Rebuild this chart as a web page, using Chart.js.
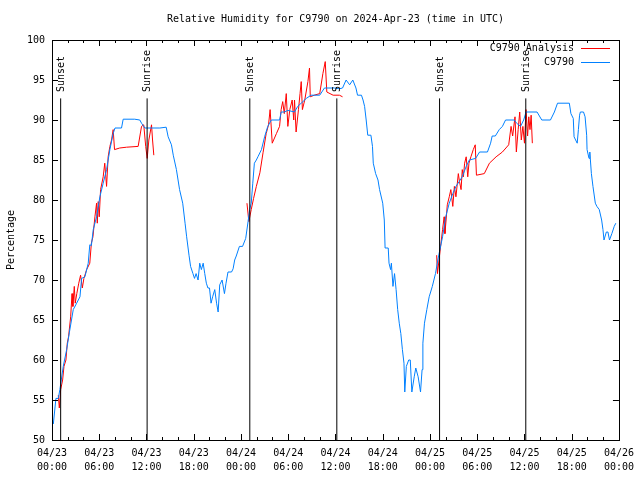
<!DOCTYPE html>
<html>
<head>
<meta charset="utf-8">
<script src="https://cdn.jsdelivr.net/npm/chart.js@4.4.1/dist/chart.umd.min.js"></script>
<style>
  body { margin: 0; background: #fff; }
  canvas { display: block; }
</style>
</head>
<body>
<canvas id="rhChart" width="640" height="480"></canvas>
<script>
// hours since 04/23 00:00 UTC
const obsHours = [0.17, 0.5, 0.8, 1.0, 1.43, 1.86, 2.2, 2.7, 3.13, 3.55, 3.76, 4.18, 4.6, 4.8, 5.0, 5.24, 5.66, 6.08, 6.5, 6.93,
  7.35, 7.77, 8.0, 8.83, 9.04, 10.5, 11.15, 11.37, 11.8, 13.7, 14.5, 14.75, 15.17, 15.4, 15.8, 16.2, 16.6, 16.9, 17.1, 17.4,
  17.6, 17.9, 18.1, 18.3, 18.55, 18.76, 18.97, 19.2, 19.4, 19.6, 19.8, 20.0, 20.2, 20.4, 20.67, 20.9, 21.1, 21.3, 21.6, 21.9,
  22.1, 22.35, 22.8, 23.0, 23.2, 23.4, 23.8, 24.2, 24.6, 24.9, 25.1, 25.3, 25.5, 25.7, 25.95, 26.15, 26.6, 27.0, 27.4, 27.85,
  28.9, 29.1, 29.5, 29.95, 30.8, 31.2, 31.65, 32.3, 32.9, 34.0, 34.6, 35.9, 36.5, 36.9, 37.35, 37.8, 38.2, 38.6, 38.8, 39.3,
  39.5, 39.7, 39.9, 40.1, 40.5, 40.7, 40.8, 41.1, 41.4, 41.6, 42.0, 42.2, 42.3, 42.7, 42.8, 43.0, 43.1, 43.3, 43.5, 43.7,
  43.9, 44.1, 44.3, 44.5, 44.7, 44.8, 45.0, 45.3, 45.5, 45.7, 46.0, 46.2, 46.5, 46.8, 47.0, 47.1, 47.3, 47.6, 47.9, 48.3,
  48.7, 49.0, 49.2, 49.6, 50.0, 50.45, 50.9, 51.3, 51.7, 52.1, 52.6, 53.0, 53.8, 54.3, 55.3, 55.7, 55.9, 56.3, 56.8, 57.2,
  57.6, 58.7, 59.0, 59.5, 59.9, 60.2, 61.6, 62.2, 63.3, 63.8, 64.2, 65.7, 65.9, 66.2, 66.3, 66.5, 66.7, 66.85, 67.0, 67.1,
  67.5, 67.7, 67.9, 67.95, 68.2, 68.3, 68.5, 68.7, 69.0, 69.2, 69.5, 69.8, 69.97, 70.1, 70.4, 70.6, 70.8, 71.1, 71.4, 71.6];
const obsValues = [52.0, 55.2, 55.2, 56.3, 59.2, 61.3, 63.4, 66.3, 67.1, 67.9, 70.2, 70.4, 72.1, 74.4, 74.3, 76.3, 77.9, 80.4, 82.1, 83.8,
  86.3, 88.3, 89.0, 89.0, 90.1, 90.1, 90.0, 89.6, 89.0, 89.0, 89.1, 87.9, 86.9, 85.6, 83.8, 81.3, 79.6, 77.1, 75.4, 73.1,
  71.7, 70.8, 70.2, 70.8, 70.0, 72.1, 71.3, 72.1, 70.8, 69.6, 69.0, 69.0, 67.1, 67.9, 68.8, 67.1, 66.0, 69.4, 70.0, 68.3,
  69.6, 71.0, 71.0, 71.4, 72.5, 73.0, 74.2, 74.2, 75.2, 77.3, 78.8, 79.6, 82.1, 84.6, 85.0, 85.4, 86.3, 87.9, 89.2, 90.0,
  90.0, 91.0, 91.0, 91.2, 91.0, 91.7, 92.1, 92.7, 93.1, 93.1, 94.0, 94.0, 93.9, 94.0, 95.0, 94.4, 95.0, 94.0, 93.1, 93.1,
  92.5, 91.7, 90.0, 88.1, 88.1, 86.7, 84.6, 83.3, 82.5, 81.3, 79.6, 77.5, 74.0, 74.0, 72.1, 71.3, 72.1, 69.2, 70.8, 68.8,
  66.3, 64.6, 63.3, 61.3, 59.6, 56.0, 59.2, 60.0, 60.0, 56.0, 57.9, 59.0, 57.9, 56.0, 58.8, 62.1, 64.6, 66.3, 67.9, 69.2,
  70.8, 72.5, 73.5, 75.4, 77.9, 79.6, 80.8, 81.7, 82.3, 82.9, 84.2, 85.0, 85.2, 86.0, 86.0, 87.1, 88.0, 88.0, 88.8, 89.2,
  90.0, 90.0, 89.6, 89.2, 90.0, 91.0, 91.0, 90.0, 90.0, 91.0, 92.1, 92.1, 90.8, 90.2, 87.9, 87.5, 87.1, 88.8, 90.6, 91.0,
  91.0, 90.4, 88.1, 86.3, 85.2, 86.0, 83.3, 81.7, 79.6, 79.2, 78.8, 77.5, 76.3, 75.0, 76.0, 76.0, 75.0, 75.8, 76.7, 77.1];

// analysis runs, null breaks the line between nights
const anaHours = [0.8, 0.93, 1.1, 1.35, 1.52, 1.77, 1.94, 2.1, 2.37, 2.54, 2.65, 2.83, 2.95, 3.15, 3.4, 3.63, 3.85, 4.05, 4.4, 4.8,
  5.0, 5.2, 5.45, 5.66, 5.75, 5.87, 6.0, 6.17, 6.5, 6.7, 6.93, 7.13, 7.35, 7.56, 7.77, 7.94, 8.6, 9.47, 10.94, 11.37,
  11.65, 11.9, 12.09, 12.3, 12.64, 12.77, 12.93, 18,
  24.76, 25.0, 25.3, 25.6, 25.95, 26.4, 26.8, 27.2, 27.5, 27.7, 27.97, 28.5, 28.9, 29.1, 29.3, 29.5, 29.75, 29.95, 30.2, 30.5,
  30.7, 30.8, 31.0, 31.3, 31.5, 31.65, 31.8, 32.1, 32.5, 32.7, 32.8, 33.3, 34.0, 34.4, 34.7, 34.9, 35.7, 36.5, 36.9, 42,
  48.85, 48.95, 49.15, 49.4, 49.6, 49.8, 49.9, 50.05, 50.2, 50.45, 50.65, 50.9, 51.1, 51.3, 51.6, 51.75, 51.95, 52.1, 52.25, 52.4,
  52.6, 52.8, 52.95, 53.2, 53.5, 53.75, 53.9, 54.9, 55.55, 56.4, 57.2, 58.0, 58.3, 58.5, 58.8, 58.97, 59.2, 59.4, 59.6, 59.8,
  60.0, 60.2, 60.4, 60.55, 60.7, 60.85, 61.0];
const anaValues = [55.6, 54.0, 56.3, 57.5, 59.2, 60.0, 62.1, 62.9, 65.4, 68.3, 66.7, 69.2, 67.1, 68.3, 69.6, 70.6, 69.0, 70.2, 71.3, 72.1,
  74.6, 75.4, 77.9, 79.6, 77.1, 79.8, 77.9, 81.3, 82.9, 84.6, 81.7, 85.4, 86.7, 87.5, 88.8, 86.3, 86.5, 86.6, 86.7, 89.2,
  89.4, 86.7, 85.2, 87.5, 89.4, 87.5, 85.6, null,
  79.6, 77.3, 78.8, 80.2, 81.7, 83.4, 85.9, 88.3, 89.4, 91.3, 87.1, 88.3, 89.2, 91.3, 92.3, 90.8, 93.3, 89.2, 91.3, 92.5,
  90.0, 92.5, 88.5, 91.3, 93.3, 94.8, 91.3, 92.5, 94.8, 96.5, 92.9, 93.1, 93.3, 95.8, 97.3, 93.5, 93.1, 93.1, 92.9, null,
  73.1, 70.8, 72.5, 74.6, 76.3, 77.9, 75.8, 77.5, 79.4, 80.4, 81.3, 79.2, 81.7, 80.4, 83.3, 82.3, 81.3, 83.8, 82.9, 84.6,
  85.4, 82.9, 84.6, 85.4, 86.3, 86.9, 83.1, 83.3, 84.6, 85.4, 86.0, 86.9, 89.2, 88.0, 90.4, 86.0, 88.8, 91.0, 87.5, 89.2,
  87.1, 91.3, 88.0, 90.4, 88.8, 90.6, 87.1];

const sunHours = [1.1, 12.08, 25.12, 36.17, 49.22, 60.17];
const sunLabels = ['Sunset', 'Sunrise', 'Sunset', 'Sunrise', 'Sunset', 'Sunrise'];
const sunLineTop = 92.7;

const tickDays = ['04/23', '04/23', '04/23', '04/23', '04/24', '04/24', '04/24', '04/24', '04/25', '04/25', '04/25', '04/25', '04/26'];
const tickTimes = ['00:00', '06:00', '12:00', '18:00', '00:00', '06:00', '12:00', '18:00', '00:00', '06:00', '12:00', '18:00', '00:00'];

const FONT = 'DejaVu Sans Mono';
const RED = 'rgb(255,0,0)';
const BLUE = 'rgb(0,128,255)';

const sunPoints = [];
sunHours.forEach(h => {
  sunPoints.push({ x: h, y: 50 }, { x: h, y: sunLineTop }, { x: h, y: null });
});

// gnuplot style frame, inward ticks, legend and sun labels
const gnuplotDecor = {
  id: 'gnuplotDecor',
  afterDatasetsDraw(chart) {
    const { ctx, chartArea: a, scales: { x, y } } = chart;
    ctx.save();
    ctx.strokeStyle = '#000';
    ctx.lineWidth = 1;
    ctx.beginPath();
    for (let h = 0; h <= 72; h += 2) {
      const px = Math.round(x.getPixelForValue(h)) + 0.5;
      const len = h % 6 === 0 ? 6 : 3;
      ctx.moveTo(px, a.bottom); ctx.lineTo(px, a.bottom - len);
      ctx.moveTo(px, a.top); ctx.lineTo(px, a.top + len);
    }
    for (let v = 50; v <= 100; v += 5) {
      const py = Math.round(y.getPixelForValue(v)) + 0.5;
      ctx.moveTo(a.left, py); ctx.lineTo(a.left + 6, py);
      ctx.moveTo(a.right, py); ctx.lineTo(a.right - 6, py);
    }
    ctx.stroke();
    ctx.strokeRect(Math.round(a.left) + 0.5, Math.round(a.top) + 0.5, Math.round(a.right - a.left), Math.round(a.bottom - a.top));

    ctx.fillStyle = '#000';
    ctx.font = '10px "' + FONT + '"';
    sunHours.forEach((h, i) => {
      ctx.save();
      ctx.translate(Math.round(x.getPixelForValue(h)) + 0.5, 92);
      ctx.rotate(-Math.PI / 2);
      ctx.textAlign = 'left';
      ctx.textBaseline = 'middle';
      ctx.fillText(sunLabels[i], 0, 0);
      ctx.restore();
    });

    const legendItems = [chart.data.datasets[0], chart.data.datasets[1]];
    legendItems.forEach((ds, i) => {
      const ly = 48 + i * 14;
      ctx.textAlign = 'right';
      ctx.textBaseline = 'middle';
      ctx.fillStyle = '#000';
      ctx.fillText(ds.label, 574, ly);
      ctx.strokeStyle = ds.borderColor;
      ctx.beginPath();
      ctx.moveTo(581, ly + 0.5);
      ctx.lineTo(610, ly + 0.5);
      ctx.stroke();
    });
    ctx.restore();
  }
};

new Chart(document.getElementById('rhChart'), {
  type: 'line',
  data: {
    datasets: [{
      label: 'C9790 Analysis',
      data: anaHours.map((h, i) => ({ x: h, y: anaValues[i] })),
      borderColor: RED,
      borderWidth: 1,
      pointRadius: 0,
      spanGaps: false,
      order: 2
    }, {
      label: 'C9790',
      data: obsHours.map((h, i) => ({ x: h, y: obsValues[i] })),
      borderColor: BLUE,
      borderWidth: 1,
      pointRadius: 0,
      order: 1
    }, {
      label: 'sun',
      data: sunPoints,
      borderColor: '#000',
      borderWidth: 1,
      pointRadius: 0,
      spanGaps: false,
      order: 0
    }]
  },
  options: {
    responsive: false,
    animation: false,
    layout: { padding: { left: 0, right: 20, top: 0, bottom: 0 } },
    plugins: {
      legend: { display: false },
      tooltip: { enabled: false },
      title: {
        display: true,
        fullSize: false,
        text: 'Relative Humidity for C9790 on 2024-Apr-23 (time in UTC)',
        color: '#000',
        font: { family: FONT, size: 10, weight: 'normal' },
        padding: { top: 13, bottom: 15 }
      }
    },
    scales: {
      x: {
        type: 'linear',
        min: 0,
        max: 72,
        grid: { display: false, drawTicks: false, tickLength: 0 },
        border: { display: false },
        ticks: {
          stepSize: 6,
          autoSkip: false,
          maxRotation: 0,
          padding: 6,
          color: '#000',
          font: { family: FONT, size: 10, lineHeight: 1.4 },
          callback: (v) => [tickDays[v / 6], tickTimes[v / 6]]
        },
        afterFit: (s) => { s.height = 40; }
      },
      y: {
        min: 50,
        max: 100,
        grid: { display: false, drawTicks: false, tickLength: 0 },
        border: { display: false },
        ticks: {
          stepSize: 5,
          padding: 7,
          color: '#000',
          font: { family: FONT, size: 10 }
        },
        title: {
          display: true,
          text: 'Percentage',
          color: '#000',
          font: { family: FONT, size: 10 },
          padding: { top: 5, bottom: 0 }
        },
        afterFit: (s) => { s.width = 52; }
      }
    }
  },
  plugins: [gnuplotDecor]
});
</script>
</body>
</html>
